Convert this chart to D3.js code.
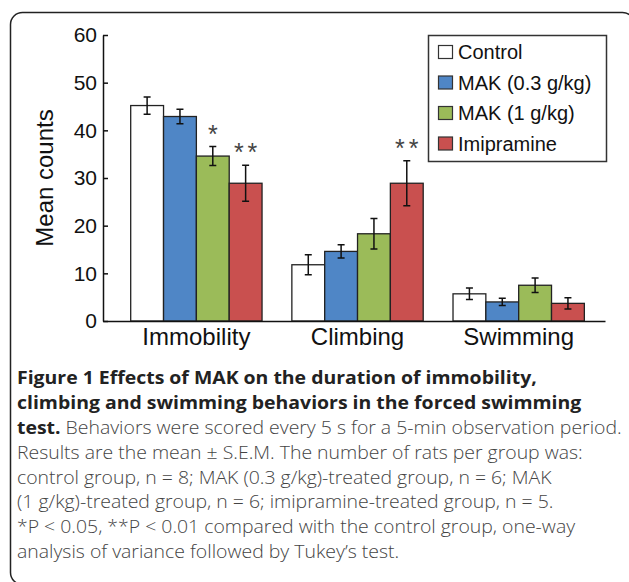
<!DOCTYPE html>
<html>
<head>
<meta charset="utf-8">
<script src="https://cdn.jsdelivr.net/npm/d3@7"></script>
<style>
  body { margin: 0; background: #fff; }
  svg { display: block; }
</style>
</head>
<body>
<script>
// data
var behaviors = ["Immobility", "Climbing", "Swimming"];
var groups = ["Control", "MAK (0.3 g/kg)", "MAK (1 g/kg)", "Imipramine"];
var colors = ["#ffffff", "#4f86c6", "#9bbb59", "#c9504f"];

var controlMean = [45.2, 11.8, 5.7];
var mak03Mean = [42.9, 14.6, 4.0];
var mak1Mean = [34.6, 18.3, 7.5];
var imiMean = [28.9, 28.9, 3.7];

var controlSem = [1.8, 2.1, 1.2];
var mak03Sem = [1.5, 1.4, 0.75];
var mak1Sem = [2.0, 3.2, 1.5];
var imiSem = [3.8, 4.7, 1.2];

// significance stars per behavior, one per group
var stars = [["", "", "*", "**"], ["", "", "", "**"], ["", "", "", ""]];

var yTicks = [0, 10, 20, 30, 40, 50, 60];

var captionBold = [
  "Figure 1 Effects of MAK on the duration of immobility,",
  "climbing and swimming behaviors in the forced swimming",
  "test."
];
var captionRest = [
  "", "",
  " Behaviors were scored every 5 s for a 5-min observation period.",
  "Results are the mean \u00b1 S.E.M. The number of rats per group was:",
  "control group, n = 8; MAK (0.3 g/kg)-treated group, n = 6; MAK",
  "(1 g/kg)-treated group, n = 6; imipramine-treated group, n = 5.",
  "*P < 0.05, **P < 0.01 compared with the control group, one-way",
  "analysis of variance followed by Tukey\u2019s test."
];

var means = [controlMean, mak03Mean, mak1Mean, imiMean];
var sems = [controlSem, mak03Sem, mak1Sem, imiSem];

var rows = [];
behaviors.forEach(function(b, i) {
  groups.forEach(function(g, j) {
    rows.push({ behavior: b, group: g, gi: j, mean: means[j][i], sem: sems[j][i], star: stars[i][j] });
  });
});

var W = 629, H = 582;
var svg = d3.select("body").append("svg")
  .attr("width", W)
  .attr("height", H);

// outer frame
svg.append("rect")
  .attr("x", 10.5).attr("y", 12.5)
  .attr("width", 624).attr("height", 572)
  .attr("rx", 12)
  .attr("fill", "none")
  .attr("stroke", "#222")
  .attr("stroke-width", 1.5);

var chartFont = "'Liberation Sans', Arial, Helvetica, sans-serif";

var x = d3.scaleBand()
  .domain(behaviors)
  .range([103, 605])
  .paddingInner(0.185)
  .paddingOuter(0.15)
  .align(0.573);

var xg = d3.scaleBand()
  .domain(groups)
  .range([0, x.bandwidth()]);

var y = d3.scaleLinear()
  .domain([0, 60])
  .range([321, 35]);

// bars
var bar = svg.append("g").selectAll("g")
  .data(rows)
  .enter()
  .append("g")
  .attr("transform", function(d) { return "translate(" + (x(d.behavior) + xg(d.group)) + ",0)"; });

bar.append("rect")
  .attr("x", 0)
  .attr("y", function(d) { return y(d.mean); })
  .attr("width", xg.bandwidth())
  .attr("height", function(d) { return y(0) - y(d.mean); })
  .attr("fill", function(d) { return colors[d.gi]; })
  .attr("stroke", "#222")
  .attr("stroke-width", 1.3);

// error bars
var cx = xg.bandwidth() / 2;
var capW = 3.5;
bar.append("path")
  .attr("d", function(d) {
    var t = y(d.mean + d.sem), b = y(d.mean - d.sem);
    return "M" + cx + "," + t + "V" + b +
      "M" + (cx - capW) + "," + t + "H" + (cx + capW) +
      "M" + (cx - capW) + "," + b + "H" + (cx + capW);
  })
  .attr("fill", "none")
  .attr("stroke", "#111")
  .attr("stroke-width", 1.5);

bar.filter(function(d) { return d.star !== ""; })
  .append("text")
  .attr("x", cx + 2)
  .attr("y", function(d) { return y(d.mean + d.sem) - 4; })
  .attr("text-anchor", "middle")
  .attr("font-family", chartFont)
  .attr("font-size", 25)
  .attr("letter-spacing", 4)
  .attr("fill", "#444")
  .text(function(d) { return d.star; });

// axes
var yAxis = svg.append("g")
  .attr("transform", "translate(103,0)")
  .call(d3.axisLeft(y).tickValues(yTicks).tickSizeInner(-5).tickSizeOuter(0).tickPadding(6));
yAxis.select(".domain").attr("stroke", "#111").attr("stroke-width", 1.5);
yAxis.selectAll(".tick line").attr("stroke", "#111").attr("stroke-width", 1.5);
yAxis.selectAll(".tick text")
  .attr("font-family", chartFont)
  .attr("font-size", 21)
  .attr("fill", "#111");

var xAxis = svg.append("g")
  .attr("transform", "translate(0,321)")
  .call(d3.axisBottom(x).tickSize(0).tickPadding(7));
xAxis.select(".domain").attr("stroke", "#111").attr("stroke-width", 1.5);
xAxis.selectAll(".tick text")
  .attr("font-family", chartFont)
  .attr("font-size", 24)
  .attr("fill", "#111");

svg.append("text")
  .attr("transform", "translate(53,178) rotate(-90)")
  .attr("text-anchor", "middle")
  .attr("font-family", chartFont)
  .attr("font-size", 24)
  .attr("fill", "#111")
  .text("Mean counts");

// legend
var legend = svg.append("g");
legend.append("rect")
  .attr("x", 428.5).attr("y", 35.5)
  .attr("width", 178).attr("height", 126)
  .attr("fill", "#fff")
  .attr("stroke", "#333")
  .attr("stroke-width", 1.5);

var item = legend.selectAll("g.item")
  .data(groups)
  .enter()
  .append("g")
  .attr("class", "item")
  .attr("transform", function(d, i) { return "translate(438," + (52 + i * 30.5) + ")"; });

item.append("rect")
  .attr("x", 0.5).attr("y", -6.5)
  .attr("width", 14).attr("height", 13)
  .attr("fill", function(d, i) { return colors[i]; })
  .attr("stroke", "#333")
  .attr("stroke-width", 1.2);

item.append("text")
  .attr("x", 20)
  .attr("y", 7)
  .attr("font-family", chartFont)
  .attr("font-size", 20)
  .attr("fill", "#111")
  .text(function(d) { return d; });

// caption (the scan is a little wider than the font, so stretch it a bit)
var cap = svg.append("g")
  .attr("transform", "translate(17,0) scale(1.08,1)")
  .attr("font-family", "'Open Sans', 'Noto Sans', sans-serif")
  .attr("font-size", 18);

captionRest.forEach(function(rest, i) {
  var t = cap.append("text")
    .attr("x", 0)
    .attr("y", 384 + i * 24.9);
  if (captionBold[i]) {
    t.append("tspan").attr("font-weight", "bold").attr("fill", "#222").text(captionBold[i]);
  }
  if (rest) {
    t.append("tspan").attr("fill", "#444").attr("font-weight", 300).text(rest);
  }
});
</script>
</body>
</html>
